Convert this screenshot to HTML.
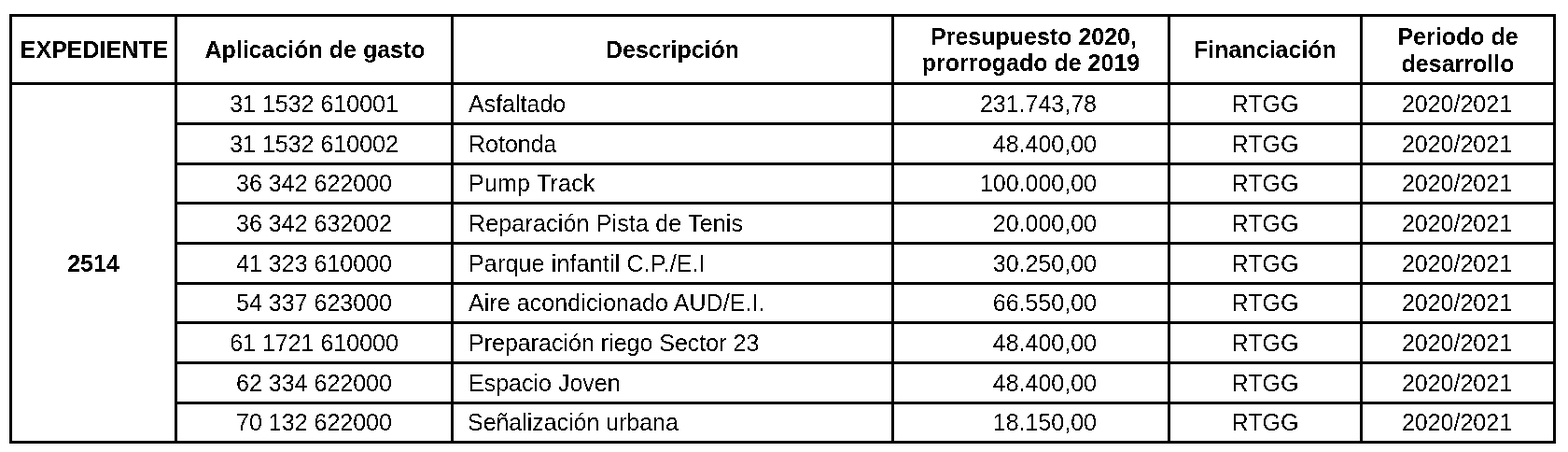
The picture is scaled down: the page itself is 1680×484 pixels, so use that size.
<!DOCTYPE html>
<html lang="es"><head><meta charset="utf-8"><title>Tabla</title>
<style>
html,body{margin:0;padding:0;background:#fff;}
body{width:1680px;height:484px;overflow:hidden;position:relative;}
svg{position:absolute;left:0;top:0;}
.t{position:absolute;filter:url(#bin);font-family:"Liberation Sans",Arial,Helvetica,sans-serif;font-size:25px;line-height:30px;white-space:nowrap;color:#000;}
</style></head><body>
<svg width="0" height="0" style="position:absolute;left:0;top:0" aria-hidden="true"><filter id="bin" x="0" y="0" width="100%" height="100%" color-interpolation-filters="sRGB"><feComponentTransfer><feFuncA type="discrete" tableValues="0 1"/></feComponentTransfer></filter></svg>
<svg width="1680" height="484" viewBox="0 0 1680 484" fill="#000">
<rect x="10.00" y="15.00" width="1657.00" height="3.00"/>
<rect x="10.00" y="472.00" width="1657.00" height="3.00"/>
<rect x="10.00" y="15.00" width="3.00" height="460.00"/>
<rect x="187.00" y="15.00" width="3.00" height="460.00"/>
<rect x="483.00" y="15.00" width="3.00" height="460.00"/>
<rect x="955.00" y="15.00" width="3.00" height="460.00"/>
<rect x="1251.00" y="15.00" width="3.00" height="460.00"/>
<rect x="1457.00" y="15.00" width="3.00" height="460.00"/>
<rect x="1664.00" y="15.00" width="3.00" height="460.00"/>
<rect x="10.00" y="88.00" width="1657.00" height="3.00"/>
<rect x="187.00" y="131.00" width="1480.00" height="3.00"/>
<rect x="187.00" y="174.00" width="1480.00" height="3.00"/>
<rect x="187.00" y="216.00" width="1480.00" height="3.00"/>
<rect x="187.00" y="259.00" width="1480.00" height="3.00"/>
<rect x="187.00" y="302.00" width="1480.00" height="3.00"/>
<rect x="187.00" y="344.00" width="1480.00" height="3.00"/>
<rect x="187.00" y="387.00" width="1480.00" height="3.00"/>
<rect x="187.00" y="430.00" width="1480.00" height="3.00"/>
</svg>
<div class="t" style="left:14.00px;top:37.90px;width:174.00px;text-align:center;font-weight:bold;">EXPEDIENTE</div>
<div class="t" style="left:191.00px;top:37.90px;width:293.00px;text-align:center;font-weight:bold;">Aplicación de gasto</div>
<div class="t" style="left:486.00px;top:37.90px;width:469.00px;text-align:center;font-weight:bold;">Descripción</div>
<div class="t" style="left:961.00px;top:24.00px;width:293.00px;text-align:center;font-weight:bold;">Presupuesto 2020,</div>
<div class="t" style="left:958.00px;top:52.30px;width:293.00px;text-align:center;font-weight:bold;">prorrogado de 2019</div>
<div class="t" style="left:1254.00px;top:37.90px;width:203.00px;text-align:center;font-weight:bold;">Financiación</div>
<div class="t" style="left:1460.00px;top:23.80px;width:204.00px;text-align:center;font-weight:bold;">Periodo de</div>
<div class="t" style="left:1460.00px;top:52.60px;width:204.00px;text-align:center;font-weight:bold;">desarrollo</div>
<div class="t" style="left:13.00px;top:266.80px;width:174.00px;text-align:center;font-weight:bold;">2514</div>
<div class="t" style="left:190.00px;top:96.00px;width:293.00px;text-align:center;">31 1532 610001</div>
<div class="t" style="left:502.00px;top:96.00px;width:453.00px;text-align:left;">Asfaltado</div>
<div class="t" style="left:958.00px;top:96.00px;width:217.00px;text-align:right;">231.743,78</div>
<div class="t" style="left:1254.00px;top:96.00px;width:203.00px;text-align:center;">RTGG</div>
<div class="t" style="left:1459.00px;top:96.00px;width:204.00px;text-align:center;">2020/2021</div>
<div class="t" style="left:190.00px;top:139.00px;width:293.00px;text-align:center;">31 1532 610002</div>
<div class="t" style="left:502.00px;top:139.00px;width:453.00px;text-align:left;">Rotonda</div>
<div class="t" style="left:958.00px;top:139.00px;width:217.00px;text-align:right;">48.400,00</div>
<div class="t" style="left:1254.00px;top:139.00px;width:203.00px;text-align:center;">RTGG</div>
<div class="t" style="left:1459.00px;top:139.00px;width:204.00px;text-align:center;">2020/2021</div>
<div class="t" style="left:190.00px;top:181.00px;width:293.00px;text-align:center;">36 342 622000</div>
<div class="t" style="left:502.00px;top:181.00px;width:453.00px;text-align:left;letter-spacing:0.220px;">Pump Track</div>
<div class="t" style="left:958.00px;top:181.00px;width:217.00px;text-align:right;">100.000,00</div>
<div class="t" style="left:1254.00px;top:181.00px;width:203.00px;text-align:center;">RTGG</div>
<div class="t" style="left:1459.00px;top:181.00px;width:204.00px;text-align:center;">2020/2021</div>
<div class="t" style="left:190.00px;top:224.00px;width:293.00px;text-align:center;">36 342 632002</div>
<div class="t" style="left:502.00px;top:224.00px;width:453.00px;text-align:left;letter-spacing:0.167px;">Reparación Pista de Tenis</div>
<div class="t" style="left:958.00px;top:224.00px;width:217.00px;text-align:right;">20.000,00</div>
<div class="t" style="left:1254.00px;top:224.00px;width:203.00px;text-align:center;">RTGG</div>
<div class="t" style="left:1459.00px;top:224.00px;width:204.00px;text-align:center;">2020/2021</div>
<div class="t" style="left:190.00px;top:267.00px;width:293.00px;text-align:center;">41 323 610000</div>
<div class="t" style="left:502.00px;top:267.00px;width:453.00px;text-align:left;letter-spacing:0.174px;">Parque infantil C.P./E.I</div>
<div class="t" style="left:958.00px;top:267.00px;width:217.00px;text-align:right;">30.250,00</div>
<div class="t" style="left:1254.00px;top:267.00px;width:203.00px;text-align:center;">RTGG</div>
<div class="t" style="left:1459.00px;top:267.00px;width:204.00px;text-align:center;">2020/2021</div>
<div class="t" style="left:190.00px;top:309.00px;width:293.00px;text-align:center;">54 337 623000</div>
<div class="t" style="left:502.00px;top:309.00px;width:453.00px;text-align:left;letter-spacing:0.077px;">Aire acondicionado AUD/E.I.</div>
<div class="t" style="left:958.00px;top:309.00px;width:217.00px;text-align:right;">66.550,00</div>
<div class="t" style="left:1254.00px;top:309.00px;width:203.00px;text-align:center;">RTGG</div>
<div class="t" style="left:1459.00px;top:309.00px;width:204.00px;text-align:center;">2020/2021</div>
<div class="t" style="left:190.00px;top:352.00px;width:293.00px;text-align:center;">61 1721 610000</div>
<div class="t" style="left:502.00px;top:352.00px;width:453.00px;text-align:left;">Preparación riego Sector 23</div>
<div class="t" style="left:958.00px;top:352.00px;width:217.00px;text-align:right;">48.400,00</div>
<div class="t" style="left:1254.00px;top:352.00px;width:203.00px;text-align:center;">RTGG</div>
<div class="t" style="left:1459.00px;top:352.00px;width:204.00px;text-align:center;">2020/2021</div>
<div class="t" style="left:190.00px;top:395.00px;width:293.00px;text-align:center;">62 334 622000</div>
<div class="t" style="left:502.00px;top:395.00px;width:453.00px;text-align:left;">Espacio Joven</div>
<div class="t" style="left:958.00px;top:395.00px;width:217.00px;text-align:right;">48.400,00</div>
<div class="t" style="left:1254.00px;top:395.00px;width:203.00px;text-align:center;">RTGG</div>
<div class="t" style="left:1459.00px;top:395.00px;width:204.00px;text-align:center;">2020/2021</div>
<div class="t" style="left:190.00px;top:437.00px;width:293.00px;text-align:center;">70 132 622000</div>
<div class="t" style="left:501.00px;top:437.00px;width:454.00px;text-align:left;letter-spacing:-0.040px;">Señalización urbana</div>
<div class="t" style="left:958.00px;top:437.00px;width:217.00px;text-align:right;">18.150,00</div>
<div class="t" style="left:1254.00px;top:437.00px;width:203.00px;text-align:center;">RTGG</div>
<div class="t" style="left:1459.00px;top:437.00px;width:204.00px;text-align:center;">2020/2021</div>
</body></html>
